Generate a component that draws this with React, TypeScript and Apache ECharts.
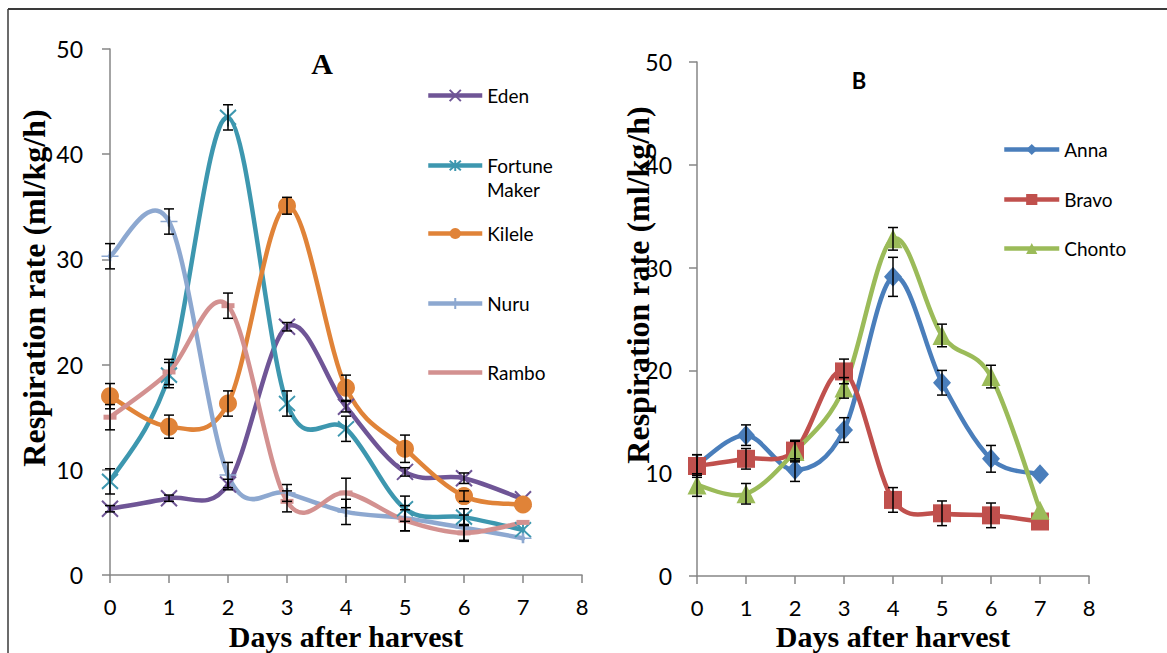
import React, { useEffect, useRef } from "react";
import * as echarts from "echarts";

// ---------- data ----------
const days = [0, 1, 2, 3, 4, 5, 6, 7];

// Panel A
const eden = [6.3, 7.3, 8.6, 23.6, 16.0, 9.8, 9.2, 7.2];
const edenErr = [0.3, 0.3, 0.5, 0.4, 0.5, 0.4, 0.5, 0];
const fortune = [8.9, 19.0, 43.5, 16.3, 13.9, 6.3, 5.5, 4.3];
const fortuneErr = [1.2, 1.2, 1.2, 1.2, 1.2, 1.2, 0.8, 0];
const kilele = [17.0, 14.1, 16.3, 35.1, 17.8, 12.0, 7.5, 6.7];
const kileleErr = [1.2, 1.1, 1.2, 0.8, 1.2, 1.3, 0.5, 0];
const nuru = [30.3, 33.6, 9.5, 7.8, 6.0, 5.4, 4.5, 3.5];
const nuruErr = [1.2, 1.2, 1.2, 0.8, 1.2, 1.2, 1.2, 0];
const rambo = [15.0, 19.3, 25.6, 7.0, 7.8, 5.2, 4.0, 5.0];
const ramboErr = [1.2, 1.2, 1.2, 1.0, 1.4, 1.0, 0.8, 0];

// Panel B
const anna = [10.8, 13.7, 10.3, 14.2, 29.1, 18.8, 11.4, 9.9];
const annaErr = [1.0, 1.0, 1.1, 1.2, 1.9, 1.2, 1.3, 0];
const bravo = [10.7, 11.4, 12.2, 19.9, 7.4, 6.1, 5.9, 5.3];
const bravoErr = [1.1, 1.0, 1.0, 1.2, 1.2, 1.2, 1.2, 0];
const chonto = [8.85, 8.0, 12.1, 18.3, 32.8, 23.4, 19.4, 6.4];
const chontoErr = [1.1, 1.0, 1.0, 1.0, 1.1, 1.1, 1.1, 0];

const legendNamesA = ["Eden", "Fortune Maker", "Kilele", "Nuru", "Rambo"];
const legendNamesB = ["Anna", "Bravo", "Chonto"];

const titleA = "A";
const titleB = "B";
const yTitle = "Respiration rate (ml/kg/h)";
const xTitle = "Days after harvest";

// ---------- styles ----------
const colors: Record<string, string> = {
  Eden: "#6F5596",
  "Fortune Maker": "#3D97AF",
  Kilele: "#E08338",
  Nuru: "#8DA8D0",
  Rambo: "#D39190",
  Anna: "#4A7EBB",
  Bravo: "#C0504D",
  Chonto: "#9BBB59",
};

const symbols: Record<string, any> = {
  Eden: { symbol: "path://M0,0L10,10M10,0L0,10", size: 16, bw: 2 },
  "Fortune Maker": { symbol: "path://M0,1L10,11M10,1L0,11M5,0L5,12", size: [16, 18], bw: 2 },
  Kilele: { symbol: "circle", size: 18, bw: 0 },
  Nuru: { symbol: "path://M0,5L16,5M8,0L8,10", size: [17, 10], bw: 2 },
  Rambo: { symbol: "rect", size: [13, 5], bw: 0 },
  Anna: { symbol: "diamond", size: [18, 20], bw: 0 },
  Bravo: { symbol: "rect", size: 18, bw: 0 },
  Chonto: { symbol: "triangle", size: 19, bw: 0 },
};

const LINE_W = 4.5;

function curveSeries(name: string, axis: number, vals: number[]) {
  const color = colors[name];
  return {
    type: "custom",
    name: name + " curve",
    xAxisIndex: axis,
    yAxisIndex: axis,
    silent: true,
    clip: false,
    data: [[days[0], vals[0]]],
    renderItem: (params: any, api: any) => {
      const pts = days.map((d, i) => api.coord([d, vals[i]]));
      let d = `M${pts[0][0]} ${pts[0][1]}`;
      for (let i = 0; i < pts.length - 1; i++) {
        const p0 = pts[Math.max(i - 1, 0)];
        const p1 = pts[i];
        const p2 = pts[i + 1];
        const p3 = pts[Math.min(i + 2, pts.length - 1)];
        const c1x = p1[0] + (p2[0] - p0[0]) / 6;
        const c1y = p1[1] + (p2[1] - p0[1]) / 6;
        const c2x = p2[0] - (p3[0] - p1[0]) / 6;
        const c2y = p2[1] - (p3[1] - p1[1]) / 6;
        d += ` C${c1x} ${c1y} ${c2x} ${c2y} ${p2[0]} ${p2[1]}`;
      }
      return {
        type: "path",
        shape: { pathData: d },
        style: { stroke: color, lineWidth: LINE_W, fill: "none", lineCap: "round", lineJoin: "round" },
      };
    },
  };
}

function markerSeries(name: string, axis: number, vals: number[]) {
  const color = colors[name];
  const s = symbols[name];
  return {
    type: "line",
    name,
    xAxisIndex: axis,
    yAxisIndex: axis,
    data: days.map((d, i) => [d, vals[i]]),
    showSymbol: true,
    showAllSymbol: true,
    symbol: s.symbol,
    symbolSize: s.size,
    lineStyle: { color, width: LINE_W, opacity: 0 },
    itemStyle: { color, borderColor: color, borderWidth: s.bw, opacity: 1 },
    emphasis: { disabled: true },
    silent: true,
  };
}

function errSeries(axis: number, vals: number[], errs: number[]) {
  return {
    type: "custom",
    xAxisIndex: axis,
    yAxisIndex: axis,
    silent: true,
    z: 5,
    data: days.map((d, i) => [d, vals[i], errs[i]]),
    renderItem: (params: any, api: any) => {
      const x = api.value(0);
      const y = api.value(1);
      const e = api.value(2);
      if (!e) return { type: "group", children: [] };
      const top = api.coord([x, y + e]);
      const bot = api.coord([x, y - e]);
      const w = 5;
      const st = { stroke: "#000", lineWidth: 1.5 };
      return {
        type: "group",
        children: [
          { type: "line", shape: { x1: top[0], y1: top[1], x2: bot[0], y2: bot[1] }, style: st },
          { type: "line", shape: { x1: top[0] - w, y1: top[1], x2: top[0] + w, y2: top[1] }, style: st },
          { type: "line", shape: { x1: bot[0] - w, y1: bot[1], x2: bot[0] + w, y2: bot[1] }, style: st },
        ],
      };
    },
  };
}

function makeAxes(gridIndex: number, yMargin: number) {
  const axisLine = { show: true, onZero: false, lineStyle: { color: "#868686", width: 1.5 } };
  const axisTick = { show: true, inside: false, length: 8, lineStyle: { color: "#868686", width: 1.5 } };
  const label = { fontFamily: "Lato", fontSize: 22, color: "#000" };
  return {
    x: {
      gridIndex,
      type: "value",
      min: 0,
      max: 8,
      interval: 1,
      axisLine,
      axisTick,
      splitLine: { show: false },
      axisLabel: { ...label, margin: 20 },
    },
    y: {
      gridIndex,
      type: "value",
      min: 0,
      max: 50,
      interval: 10,
      axisLine,
      axisTick,
      splitLine: { show: false },
      axisLabel: { ...label, fontSize: 23, margin: yMargin },
    },
  };
}

function legendFor(name: string, left: number, cy: number, itemWidth: number) {
  const isFM = name === "Fortune Maker";
  const itemHeight = 14;
  const item: any = { name, lineStyle: { width: LINE_W, color: colors[name], opacity: 1 } };
  if (name === "Rambo") item.itemStyle = { opacity: 0 };
  return {
    show: true,
    orient: "vertical",
    left,
    top: cy - itemHeight / 2,
    padding: 0,
    itemWidth,
    itemHeight,
    itemGap: 0,
    selectedMode: false,
    data: [item],
    formatter: isFM ? () => "Fortune" : undefined,
    textStyle: {
      fontFamily: "Lato",
      fontSize: 19,
      color: "#000",
    },
  };
}

export default function App() {
  const ref = useRef<HTMLDivElement>(null);

  useEffect(() => {
    if (!ref.current) return;
    const chart = echarts.init(ref.current, undefined, { renderer: "svg" });

    const a = makeAxes(0, 27);
    const b = makeAxes(1, 25);

    const seriesA: [string, number[], number[]][] = [
      ["Eden", eden, edenErr],
      ["Fortune Maker", fortune, fortuneErr],
      ["Kilele", kilele, kileleErr],
      ["Nuru", nuru, nuruErr],
      ["Rambo", rambo, ramboErr],
    ];
    const seriesB: [string, number[], number[]][] = [
      ["Anna", anna, annaErr],
      ["Bravo", bravo, bravoErr],
      ["Chonto", chonto, chontoErr],
    ];

    const series: any[] = [];
    seriesA.forEach(([n, v]) => {
      series.push(curveSeries(n, 0, v));
      series.push(markerSeries(n, 0, v));
    });
    seriesB.forEach(([n, v]) => {
      series.push(curveSeries(n, 1, v));
      series.push(markerSeries(n, 1, v));
    });
    seriesA.forEach(([, v, e]) => series.push(errSeries(0, v, e)));
    seriesB.forEach(([, v, e]) => series.push(errSeries(1, v, e)));

    const legendYA = [93, 163, 231, 301, 370];
    const legendYB = [147, 197, 246];
    const legends = [
      ...legendNamesA.map((n, i) => legendFor(n, 426, legendYA[i], 54)),
      ...legendNamesB.map((n, i) => legendFor(n, 1002, legendYB[i], 55)),
    ];

    const serifBold = 'bold 32px "Liberation Serif", "Times New Roman", serif';
    const serifBoldX = 'bold 30px "Liberation Serif", "Times New Roman", serif';

    chart.setOption({
      animation: false,
      backgroundColor: "#ffffff",
      grid: [
        { left: 110, top: 49, width: 472, height: 526 },
        { left: 697, top: 62, width: 392, height: 514 },
      ],
      xAxis: [a.x, b.x],
      yAxis: [a.y, b.y],
      legend: legends,
      series,
      graphic: [
        { type: "line", shape: { x1: 8, y1: 9, x2: 1167, y2: 9 }, style: { stroke: "#3a3a3a", lineWidth: 2 } },
        { type: "line", shape: { x1: 8, y1: 9, x2: 8, y2: 653 }, style: { stroke: "#3a3a3a", lineWidth: 1.5 } },
        {
          type: "text",
          x: 487,
          y: 189,
          style: { text: "Maker", font: "19px Lato, sans-serif", align: "left", verticalAlign: "middle", fill: "#000" },
        },
        {
          type: "text",
          x: 322,
          y: 63,
          style: { text: titleA, font: 'bold 30px "Liberation Serif", serif', align: "center", verticalAlign: "middle", fill: "#000" },
        },
        {
          type: "text",
          x: 859,
          y: 80,
          style: { text: titleB, font: "bold 22px Lato, sans-serif", align: "center", verticalAlign: "middle", fill: "#000" },
        },
        {
          type: "text",
          x: 34,
          y: 288,
          rotation: Math.PI / 2,
          style: { text: yTitle, font: serifBold, align: "center", verticalAlign: "middle", fill: "#000" },
        },
        {
          type: "text",
          x: 638,
          y: 285,
          rotation: Math.PI / 2,
          style: { text: yTitle, font: serifBold, align: "center", verticalAlign: "middle", fill: "#000" },
        },
        {
          type: "text",
          x: 346,
          y: 636,
          style: { text: xTitle, font: serifBoldX, align: "center", verticalAlign: "middle", fill: "#000" },
        },
        {
          type: "text",
          x: 893,
          y: 636,
          style: { text: xTitle, font: serifBoldX, align: "center", verticalAlign: "middle", fill: "#000" },
        },
      ],
    });

    return () => chart.dispose();
  }, []);

  return (
    <div
      ref={ref}
      style={{ position: "fixed", left: 0, top: 0, width: 1167, height: 653, background: "#fff" }}
    />
  );
}
